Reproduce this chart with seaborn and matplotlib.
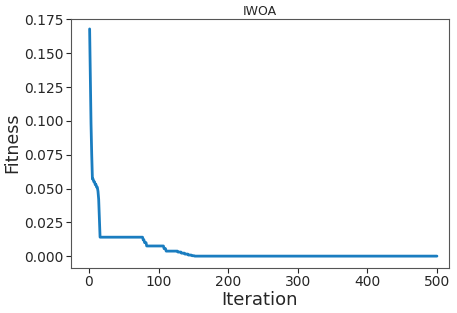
import numpy as np
import pandas as pd
import matplotlib
matplotlib.use('Agg')
import matplotlib.pyplot as plt
import seaborn as sns

# change points of the best fitness curve (iteration, value held from there on)
change_iter = [1, 2, 3, 4, 5, 7, 9, 11, 13, 14, 15, 16, 78, 80, 83, 108, 111, 128, 133, 138, 143, 148, 152]
change_fit = [0.168, 0.135, 0.098, 0.075, 0.057, 0.055, 0.053, 0.051, 0.048, 0.042, 0.028, 0.014,
              0.012, 0.010, 0.0075, 0.0055, 0.0037, 0.0030, 0.0022, 0.0015, 0.0008, 0.0003, 0.0]
n_iter = 500

iters = np.arange(1, n_iter + 1)
fit = pd.Series(change_fit, index=change_iter).reindex(iters).ffill()
df = pd.DataFrame({'Iteration': iters, 'Fitness': fit.values})

sns.set_style('ticks')
plt.rcParams['font.family'] = ['DejaVu Sans']

fig, ax = plt.subplots(figsize=(4.57, 3.13), dpi=100)
sns.lineplot(x='Iteration', y='Fitness', data=df, ax=ax, color='#1a7dc0', linewidth=2)
ax.set_title('IWOA', fontsize=9, pad=3)
ax.set_xlabel('Iteration', fontsize=13, labelpad=1)
ax.set_ylabel('Fitness', fontsize=12.5, labelpad=2)
ax.set_xticks([0, 100, 200, 300, 400, 500])
yt = [0, 0.025, 0.05, 0.075, 0.1, 0.125, 0.15, 0.175]
ax.set_yticks(yt)
ax.set_yticklabels([f'{v:.3f}' for v in yt])
ax.tick_params(labelsize=10, pad=2)
ax.set_xlim(-26, 517)
ax.set_ylim(-0.0085, 0.1755)
for s in ax.spines.values():
    s.set_color('#555555')
plt.subplots_adjust(left=0.155, right=0.982, top=0.94, bottom=0.145)
plt.savefig('out.png', dpi=100)
